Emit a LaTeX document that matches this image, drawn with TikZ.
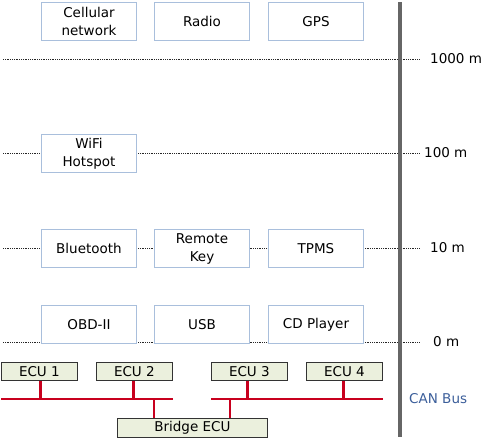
\documentclass[tikz,border=0pt]{standalone}
\usepackage{fontspec}
\setmainfont{DejaVu Sans}
\definecolor{boxline}{HTML}{A9BFDC}
\definecolor{ecufill}{HTML}{EBF0DD}
\definecolor{busred}{HTML}{C8001E}
\definecolor{axisgray}{HTML}{666666}
\definecolor{canblue}{HTML}{3B5E9A}
\begin{document}
\begin{tikzpicture}[x=1pt,y=-1pt,
  devbox/.style={draw=boxline, line width=1pt, fill=white, minimum width=95pt, minimum height=38pt, inner sep=0pt, align=center, font=\fontsize{13.5}{18}\selectfont, anchor=north west},
  ecubox/.style={draw=black!80, line width=0.8pt, fill=ecufill, minimum width=76pt, minimum height=18pt, inner sep=0pt, font=\fontsize{13.5}{15}\selectfont, anchor=north west},
  level/.style={densely dotted, line width=0.8pt, black!85},
  lvllabel/.style={anchor=west, inner sep=0pt, font=\fontsize{13.5}{15}\selectfont},
  bus/.style={busred, line width=2.6pt},
  stub/.style={busred, line width=2.6pt}]
\useasboundingbox (0,0) rectangle (484,439);
% level lines
\coordinate (l1a) at (3,59);   \coordinate (l1b) at (420,59);
\coordinate (l2a) at (3,153);  \coordinate (l2b) at (420,153);
\coordinate (l3a) at (3,248);  \coordinate (l3b) at (420,248);
\coordinate (l4a) at (3,342);  \coordinate (l4b) at (420,342);
\draw[level] (l1a) -- (l1b);
\draw[level] (l2a) -- (l2b);
\draw[level] (l3a) -- (l3b);
\draw[level] (l4a) -- (l4b);
% axis
\coordinate (axt) at (400,2); \coordinate (axb) at (400,437);
\draw[axisgray, line width=3.5pt] (axt) -- (axb);
% labels
\node[lvllabel] (t1000) at (430,59) {1000 m};
\node[lvllabel] (t100) at (424,153) {100 m};
\node[lvllabel] (t10) at (430,248) {10 m};
\node[lvllabel] (t0) at (433,342) {0 m};
\node[lvllabel, text=canblue] (can) at (409,399) {CAN Bus};
% device boxes
\node[devbox] (cell) at (41,2) {Cellular\\network};
\node[devbox] (radio) at (154,2) {Radio};
\node[devbox] (gps) at (268,2) {GPS};
\node[devbox] (wifi) at (41,134) {WiFi\\Hotspot};
\node[devbox] (bt) at (41,229) {Bluetooth};
\node[devbox] (key) at (154,229) {Remote\\Key};
\node[devbox] (tpms) at (268,229) {TPMS};
\node[devbox] (obd) at (41,305) {OBD-II};
\node[devbox] (usb) at (154,305) {USB};
\node[devbox] (cd) at (268,305) {CD Player};
% buses
\coordinate (busLa) at (1,399); \coordinate (busLb) at (173,399);
\coordinate (busRa) at (211,399); \coordinate (busRb) at (383,399);
% ECUs
\node[ecubox] (e1) at (1,362) {ECU 1};
\node[ecubox] (e2) at (96,362) {ECU 2};
\node[ecubox] (e3) at (211,362) {ECU 3};
\node[ecubox] (e4) at (306,362) {ECU 4};
\node[ecubox, minimum width=150pt, minimum height=19pt, text depth=3pt] (br) at (117,418) {Bridge ECU};
% stubs
\draw[stub] ([xshift=1pt]e1.south) -- ([xshift=1pt]e1.south |- busLa);
\draw[stub] ([xshift=-1pt]e2.south) -- ([xshift=-1pt]e2.south |- busLa);
\draw[stub] ([xshift=-2pt]e3.south) -- ([xshift=-2pt]e3.south |- busRa);
\draw[stub] ([xshift=-1pt]e4.south) -- ([xshift=-1pt]e4.south |- busRa);
\draw[stub] (br.north -| 154,0) -- (busLa -| 154,0);
\draw[stub] (br.north -| 230,0) -- (busRa -| 230,0);
\draw[bus] (busLa) -- (busLb);
\draw[bus] (busRa) -- (busRb);
\end{tikzpicture}
\end{document}
